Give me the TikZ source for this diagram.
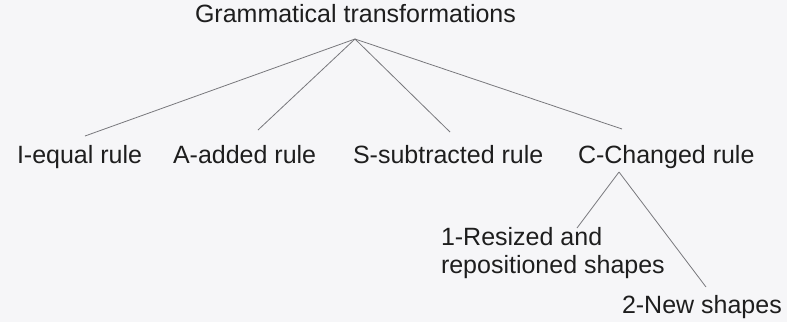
\documentclass[tikz,border=0pt]{standalone}
\usepackage{fontspec}
\setmainfont{Liberation Sans}
\definecolor{bgc}{RGB}{246,246,248}
\definecolor{txc}{RGB}{30,30,30}
\definecolor{lnc}{RGB}{120,120,124}
\begin{document}
\begin{tikzpicture}[x=1pt,y=-1pt,
  lbl/.style={anchor=base west,inner sep=0pt,outer sep=0pt,text=txc,font=\fontsize{25}{29}\selectfont},
  branch/.style={draw=lnc,line width=0.8pt}]
\fill[bgc] (0,0) rectangle (787,322);
\useasboundingbox (0,0) rectangle (787,322);
\node[lbl] (root) at (195,22) {Grammatical transformations};
\node[lbl] (i) at (17,163) {I-equal rule};
\node[lbl] (a) at (173,163) {A-added rule};
\node[lbl] (s) at (353,163) {S-subtracted rule};
\node[lbl] (c) at (578,163) {C-Changed rule};
\node[lbl] (r1) at (441,245) {1-Resized and};
\node[lbl] (r2) at (441,273) {repositioned shapes};
\node[lbl] (n) at (622,313) {2-New shapes};
\coordinate (apex) at (355,39);
\coordinate (ei) at (85,136);
\coordinate (ea) at (258,130);
\coordinate (es) at (450,132);
\coordinate (ec) at (622,129);
\coordinate (capex) at (619,172);
\coordinate (er) at (577,228);
\coordinate (en) at (706,287);
\draw[branch] (apex) -- (ei);
\draw[branch] (apex) -- (ea);
\draw[branch] (apex) -- (es);
\draw[branch] (apex) -- (ec);
\draw[branch] (capex) -- (er);
\draw[branch] (capex) -- (en);
\end{tikzpicture}
\end{document}
